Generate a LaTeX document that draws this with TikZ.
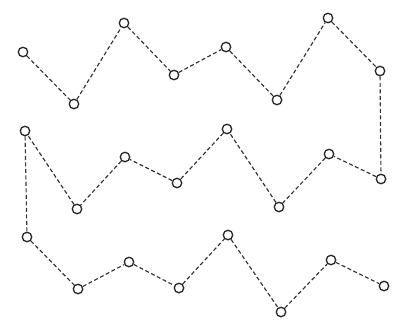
\documentclass[tikz,border=0pt]{standalone}
\begin{document}
\begin{tikzpicture}[x=1pt,y=-1pt,
  pt/.style={circle,draw=black!85,line width=1.3pt,inner sep=0pt,minimum size=9.5pt,fill=white},
  link/.style={draw=black!80,line width=1.15pt,dash pattern=on 4pt off 2.5pt}]
\useasboundingbox (0,0) rectangle (398,327);
% row 1
\node[pt] (a1) at (23,52) {};
\node[pt] (a2) at (74,104) {};
\node[pt] (a3) at (124,23) {};
\node[pt] (a4) at (174,75) {};
\node[pt] (a5) at (226,47) {};
\node[pt] (a6) at (277,100) {};
\node[pt] (a7) at (328,18) {};
\node[pt] (a8) at (380,71) {};
% row 2
\node[pt] (b1) at (25,131) {};
\node[pt] (b2) at (77,209) {};
\node[pt] (b3) at (125,157) {};
\node[pt] (b4) at (177,183) {};
\node[pt] (b5) at (227,129) {};
\node[pt] (b6) at (279,207) {};
\node[pt] (b7) at (329,154) {};
\node[pt] (b8) at (381,179) {};
% row 3
\node[pt] (c1) at (27,237) {};
\node[pt] (c2) at (78,289) {};
\node[pt] (c3) at (129,262) {};
\node[pt] (c4) at (179,288) {};
\node[pt] (c5) at (228,235) {};
\node[pt] (c6) at (281,312) {};
\node[pt] (c7) at (331,260) {};
\node[pt] (c8) at (384,286) {};
\draw[link] (a1)--(a2); \draw[link] (a2)--(a3); \draw[link] (a3)--(a4);
\draw[link] (a4)--(a5); \draw[link] (a5)--(a6); \draw[link] (a6)--(a7);
\draw[link] (a7)--(a8); \draw[link] (a8)--(b8);
\draw[link] (b8)--(b7); \draw[link] (b7)--(b6); \draw[link] (b6)--(b5);
\draw[link] (b5)--(b4); \draw[link] (b4)--(b3); \draw[link] (b3)--(b2);
\draw[link] (b2)--(b1); \draw[link] (b1)--(c1);
\draw[link] (c1)--(c2); \draw[link] (c2)--(c3); \draw[link] (c3)--(c4);
\draw[link] (c4)--(c5); \draw[link] (c5)--(c6); \draw[link] (c6)--(c7);
\draw[link] (c7)--(c8);
\end{tikzpicture}
\end{document}
